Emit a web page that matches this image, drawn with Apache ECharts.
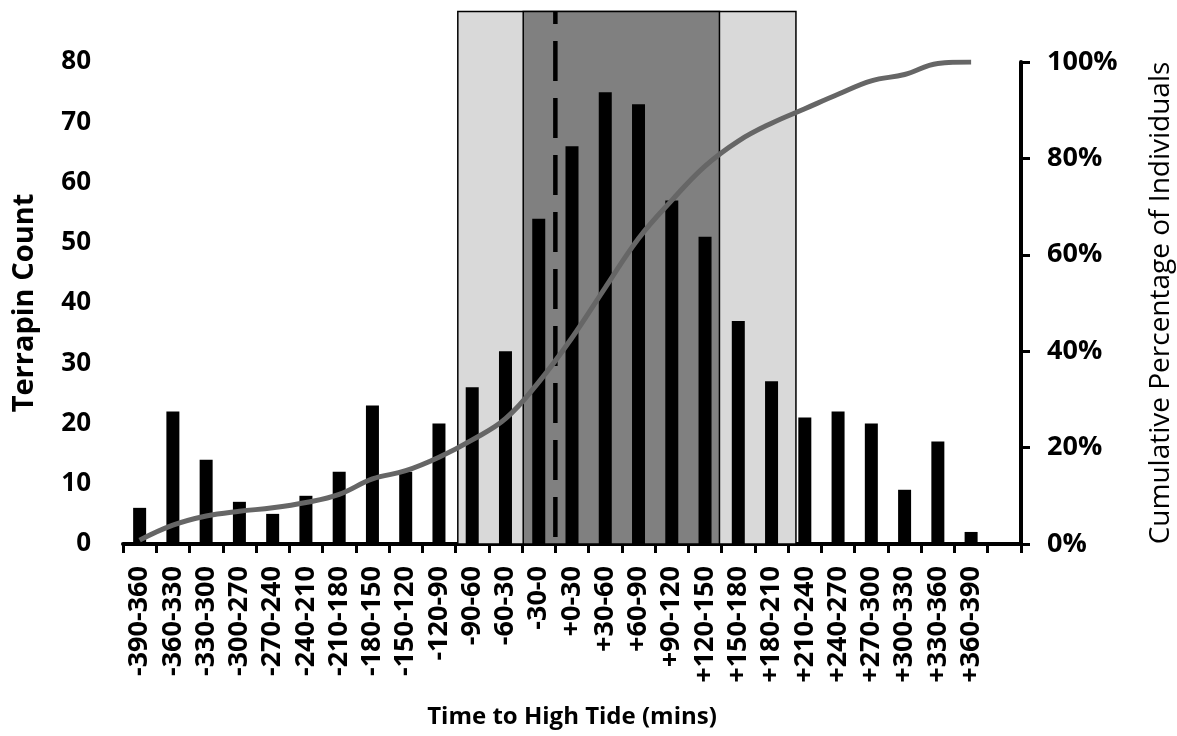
<!DOCTYPE html>
<html>
<head>
<meta charset="utf-8">
<title>Terrapin count by time to high tide</title>
<script src="https://cdn.jsdelivr.net/npm/echarts@6/dist/echarts.min.js"></script>
<style>
  html, body { margin: 0; padding: 0; background: #fff; }
  #chart { width: 1177px; height: 736px; }
</style>
</head>
<body>
<div id="chart"></div>
<script>
// 30-minute bins relative to high tide
const categories = [
  '-390-360', '-360-330', '-330-300', '-300-270', '-270-240', '-240-210',
  '-210-180', '-180-150', '-150-120', '-120-90', '-90-60', '-60-30', '-30-0',
  '+0-30', '+30-60', '+60-90', '+90-120', '+120-150', '+150-180', '+180-210',
  '+210-240', '+240-270', '+270-300', '+300-330', '+330-360', '+360-390'
];
const counts = [6, 22, 14, 7, 5, 8, 12, 23, 12, 20, 26, 32, 54, 66, 75, 73, 57, 51, 37, 27, 21, 22, 20, 9, 17, 2];
const cumulativePct = [0.8, 3.9, 5.8, 6.8, 7.5, 8.6, 10.3, 13.5, 15.2, 18.0, 21.6, 26.0, 33.6, 42.8, 53.2, 63.4, 71.3, 78.4, 83.6, 87.3, 90.3, 93.3, 96.1, 97.4, 99.7, 100];

const countTicks = [0, 10, 20, 30, 40, 50, 60, 70, 80];
const pctTicks = [0, 20, 40, 60, 80, 100];

// shaded windows, in minutes from high tide
const outerWindow = [-88, 217];
const innerWindow = [-29, 148];
const highTide = 0;
const minutesRange = [-390, 420]; // 27 bins of 30 min, last one empty
const boxTop = 88.4; // boxes rise a bit above the count axis

const font = 'Open Sans';
const chart = echarts.init(document.getElementById('chart'));

const option = {
  backgroundColor: '#fff',
  animation: false,
  grid: { left: 123, right: 156, top: 62, bottom: 192, containLabel: false, outerBoundsMode: 'none' },
  xAxis: [
    {
      type: 'category',
      data: categories.concat(['']),
      name: 'Time to High Tide (mins)',
      nameLocation: 'middle',
      nameGap: 161,
      nameTextStyle: { fontFamily: font, fontWeight: 'bold', fontSize: 24, color: '#000' },
      axisLine: { lineStyle: { color: '#000', width: 4 } },
      axisTick: { show: true, interval: 0, length: 9, lineStyle: { color: '#000', width: 3 } },
      axisLabel: {
        interval: 0, rotate: 90, margin: 22,
        fontFamily: font, fontWeight: 'bold', fontSize: 27, color: '#000'
      },
      splitLine: { show: false }
    },
    {
      type: 'value',
      min: minutesRange[0],
      max: minutesRange[1],
      show: false
    }
  ],
  yAxis: [
    {
      type: 'value',
      min: countTicks[0],
      max: countTicks[countTicks.length - 1],
      interval: countTicks[1] - countTicks[0],
      name: 'Terrapin Count',
      nameLocation: 'middle',
      nameGap: 84,
      nameTextStyle: { fontFamily: font, fontWeight: 'bold', fontSize: 29, color: '#000' },
      axisLine: { show: true, lineStyle: { color: '#000', width: 4 } },
      axisTick: { show: true, length: 9, lineStyle: { color: '#000', width: 3 } },
      axisLabel: { margin: 32, fontFamily: font, fontWeight: 'bold', fontSize: 26, color: '#000' },
      splitLine: { show: false }
    },
    {
      type: 'value',
      position: 'right',
      min: pctTicks[0],
      max: pctTicks[pctTicks.length - 1],
      interval: pctTicks[1] - pctTicks[0],
      name: 'Cumulative Percentage of Individuals',
      nameLocation: 'middle',
      nameGap: 126,
      nameTextStyle: { fontFamily: font, fontSize: 28, color: '#000' },
      axisLine: { show: true, lineStyle: { color: '#000', width: 4 } },
      axisTick: { show: true, length: 9, lineStyle: { color: '#000', width: 3 } },
      axisLabel: { margin: 26, formatter: '{value}%', fontFamily: font, fontWeight: 'bold', fontSize: 27, color: '#000' },
      splitLine: { show: false }
    }
  ],
  series: [
    {
      type: 'custom',
      name: 'windows',
      xAxisIndex: 1,
      yAxisIndex: 0,
      clip: false,
      silent: true,
      z: 1,
      data: [[outerWindow[0], outerWindow[1], 0], [innerWindow[0], innerWindow[1], 1]],
      renderItem: (params, api) => {
        const lo = api.coord([api.value(0), 0]);
        const hi = api.coord([api.value(1), boxTop]);
        return {
          type: 'rect',
          shape: { x: lo[0], y: hi[1], width: hi[0] - lo[0], height: lo[1] - hi[1] },
          style: { fill: api.value(2) === 0 ? '#d9d9d9' : '#808080', stroke: '#000', lineWidth: 1.5 }
        };
      }
    },
    {
      type: 'custom',
      name: 'high tide',
      xAxisIndex: 1,
      yAxisIndex: 0,
      clip: false,
      silent: true,
      z: 2,
      data: [[highTide]],
      renderItem: (params, api) => {
        const lo = api.coord([api.value(0), 0]);
        const hi = api.coord([api.value(0), boxTop]);
        return {
          type: 'line',
          shape: { x1: lo[0], y1: lo[1], x2: hi[0], y2: hi[1] },
          style: { stroke: '#000', lineWidth: 4.5, lineDash: [40, 17], lineDashOffset: 50 }
        };
      }
    },
    {
      type: 'bar',
      name: 'Terrapin Count',
      data: counts,
      barWidth: 13,
      itemStyle: { color: '#000' },
      z: 3
    },
    {
      type: 'line',
      name: 'Cumulative Percentage',
      yAxisIndex: 1,
      data: cumulativePct,
      smooth: 0.4,
      symbol: 'none',
      lineStyle: { color: '#666', width: 5 },
      z: 4
    }
  ]
};

chart.setOption(option);
</script>
</body>
</html>
